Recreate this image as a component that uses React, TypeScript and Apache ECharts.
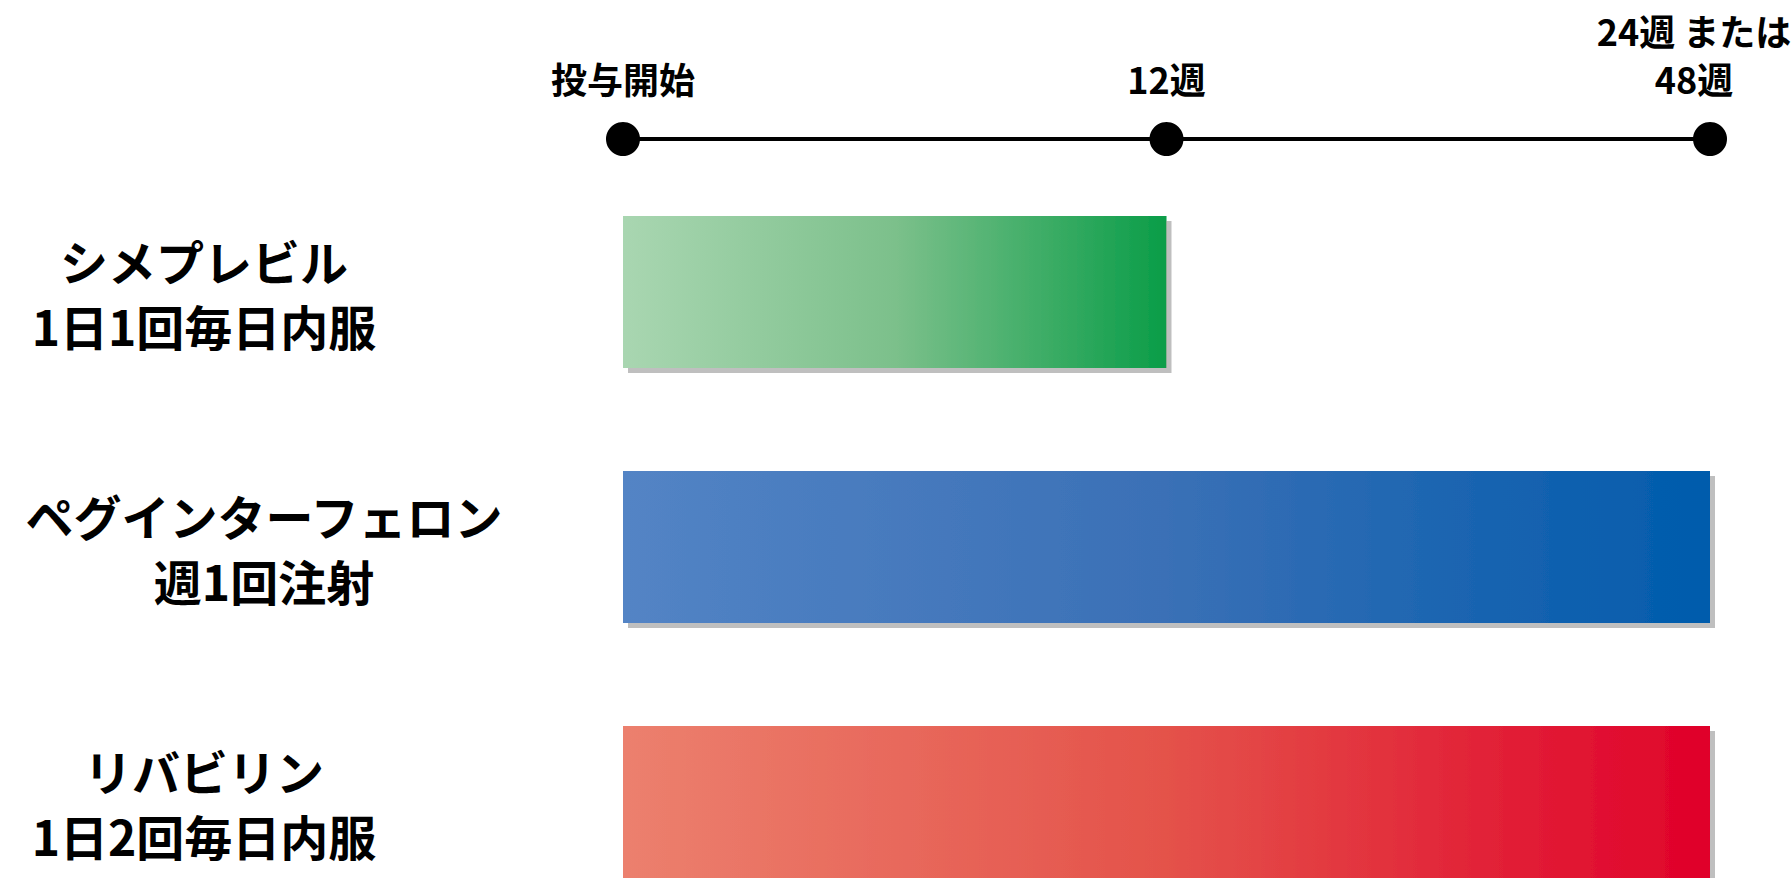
import React, { useEffect, useRef } from "react";
import * as echarts from "echarts";

// Timeline milestones (position index on the schedule axis)
const milestoneLabels = ["投与開始", "12週", "24週 または\n48週"];
const milestonePositions = [0, 1, 2];

// Drugs and their treatment span (end position on the schedule axis)
const drugNames = [
  "シメプレビル\n1日1回毎日内服",
  "ペグインターフェロン\n週1回注射",
  "リバビリン\n1日2回毎日内服",
];
const treatmentEnd = [1, 2, 2];
const barGradients = [
  ["#a9d6b1", "#7cc08b", "#0a9d48"],
  ["#5384c5", "#3a70b6", "#005bac"],
  ["#ec806e", "#e4524a", "#e0002a"],
];

const FONT = '"Noto Sans CJK JP", "Noto Sans", sans-serif';
// extra left padding of each category label (shifts its centre right by half)
const labelPadLeft = [0, 120, 0];

export default function App() {
  const ref = useRef<HTMLDivElement>(null);

  useEffect(() => {
    document.body.style.margin = "0";
    const chart = echarts.init(ref.current!, null, { renderer: "svg" });

    const barData = treatmentEnd.map((v, i) => ({
      value: v,
      itemStyle: {
        color: {
          type: "linear",
          x: 0,
          y: 0,
          x2: 1,
          y2: 0,
          colorStops: [
            { offset: 0, color: barGradients[i][0] },
            { offset: 0.5, color: barGradients[i][1] },
            { offset: 1, color: barGradients[i][2] },
          ],
        },
        shadowColor: "#bfbfbf",
        shadowOffsetX: 5,
        shadowOffsetY: 5,
        shadowBlur: 0,
      },
    }));

    const timelineData = milestonePositions.map((p, i) => ({
      value: [p, 0],
      label:
        i === milestonePositions.length - 1
          ? { offset: [-16, 0] }
          : {},
    }));

    const baseText = {
      fontSize: 48,
      fontWeight: "bold",
      lineHeight: 65,
      color: "#000",
      fontFamily: FONT,
    };
    const rich: Record<string, any> = {};
    labelPadLeft.forEach((pad, i) => {
      rich["s" + i] = { ...baseText, padding: [0, 0, 0, pad] };
    });

    chart.setOption({
      animation: false,
      backgroundColor: "#ffffff",
      grid: [
        { left: 623, right: 82, top: 164.5, height: 765, containLabel: false, outerBoundsMode: "none" },
        { left: 623, right: 82, top: 100, height: 78, containLabel: false, outerBoundsMode: "none" },
      ],
      xAxis: [
        { type: "value", gridIndex: 0, min: 0, max: 2, show: false },
        { type: "value", gridIndex: 1, min: 0, max: 2, show: false },
      ],
      yAxis: [
        {
          type: "category",
          gridIndex: 0,
          inverse: true,
          data: drugNames,
          axisLine: { show: false },
          axisTick: { show: false },
          splitLine: { show: false },
          axisLabel: {
            align: "center",
            margin: 419,
            ...baseText,
            formatter: (value: string, index: number) =>
              value
                .split("\n")
                .map((line) => `{s${index}|${line}}`)
                .join("\n"),
            rich,
          },
        },
        { type: "value", gridIndex: 1, min: -1, max: 1, show: false },
      ],
      series: [
        {
          type: "bar",
          xAxisIndex: 0,
          yAxisIndex: 0,
          barWidth: 152,
          data: barData,
        },
        {
          type: "line",
          xAxisIndex: 1,
          yAxisIndex: 1,
          data: timelineData,
          symbol: "circle",
          symbolSize: 34,
          lineStyle: { color: "#000", width: 4 },
          itemStyle: { color: "#000" },
          label: {
            show: true,
            position: "top",
            distance: 20,
            formatter: (p: any) => milestoneLabels[p.dataIndex],
            fontSize: 36,
            fontWeight: "bold",
            lineHeight: 48,
            color: "#000",
            fontFamily: FONT,
            align: "center",
          },
        },
      ],
    });

    return () => chart.dispose();
  }, []);

  return <div ref={ref} style={{ width: 1792, height: 878 }} />;
}
